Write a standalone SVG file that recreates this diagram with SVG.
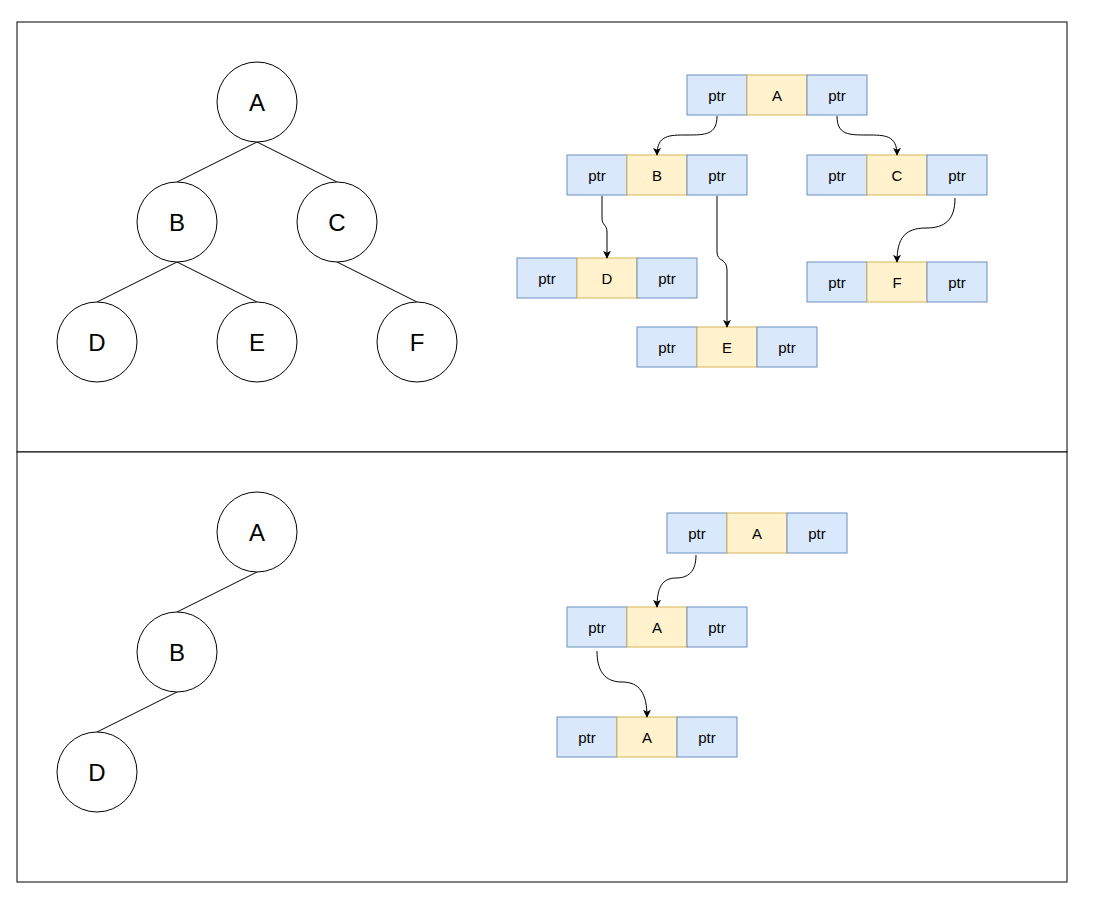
<svg xmlns="http://www.w3.org/2000/svg" width="1094" height="911" viewBox="0 0 1094 911">
<style>
.panel{fill:#fff;stroke:#000;stroke-width:1}
.circ{fill:#fff;stroke:#000;stroke-width:1}
.ct{font-family:"Liberation Sans",Arial,sans-serif;font-size:24px;text-anchor:middle;dominant-baseline:central;fill:#000}
.p{fill:#dae8fc;stroke:#6c8ebf;stroke-width:1}
.d{fill:#fff2cc;stroke:#d6b656;stroke-width:1}
.rt{font-family:"Liberation Sans",Arial,sans-serif;font-size:15px;text-anchor:middle;dominant-baseline:central;fill:#000}
.tl{stroke:#000;stroke-width:1;fill:none}
.ar{stroke:#000;stroke-width:1;fill:none;marker-end:url(#arr)}
</style>
<defs>
<marker id="arr" viewBox="0 0 10 10" refX="9" refY="5" markerWidth="8" markerHeight="8" markerUnits="userSpaceOnUse" orient="auto">
<path d="M0,0 L10,5 L0,10 L2.5,5 Z" fill="#000"/>
</marker>
<g id="rec">
<rect class="p" x="0" y="0" width="60" height="40"/>
<rect class="d" x="60" y="0" width="60" height="40"/>
<rect class="p" x="120" y="0" width="60" height="40"/>
<text class="rt" x="30" y="20">ptr</text>
<text class="rt" x="150" y="20">ptr</text>
</g>
</defs>
<rect width="1094" height="911" fill="#fff"/>
<rect class="panel" x="17" y="22" width="1050" height="430"/>
<rect class="panel" x="17" y="452" width="1050" height="430"/>

<g id="tree-edges">
<line class="tl" x1="257" y1="142" x2="177" y2="182"/>
<line class="tl" x1="257" y1="142" x2="337" y2="182"/>
<line class="tl" x1="177" y1="262" x2="97" y2="302"/>
<line class="tl" x1="177" y1="262" x2="257" y2="302"/>
<line class="tl" x1="337" y1="262" x2="417" y2="302"/>
<line class="tl" x1="257" y1="572" x2="177" y2="612"/>
<line class="tl" x1="177" y1="692" x2="97" y2="732"/>
</g>

<g id="tA"><circle class="circ" cx="257" cy="102" r="40"/><text class="ct" x="257" y="102">A</text></g>
<g id="tB"><circle class="circ" cx="177" cy="222" r="40"/><text class="ct" x="177" y="222">B</text></g>
<g id="tC"><circle class="circ" cx="337" cy="222" r="40"/><text class="ct" x="337" y="222">C</text></g>
<g id="tD"><circle class="circ" cx="97" cy="342" r="40"/><text class="ct" x="97" y="342">D</text></g>
<g id="tE"><circle class="circ" cx="257" cy="342" r="40"/><text class="ct" x="257" y="342">E</text></g>
<g id="tF"><circle class="circ" cx="417" cy="342" r="40"/><text class="ct" x="417" y="342">F</text></g>

<g id="bA"><circle class="circ" cx="257" cy="532" r="40"/><text class="ct" x="257" y="532">A</text></g>
<g id="bB"><circle class="circ" cx="177" cy="652" r="40"/><text class="ct" x="177" y="652">B</text></g>
<g id="bD"><circle class="circ" cx="97" cy="772" r="40"/><text class="ct" x="97" y="772">D</text></g>

<g id="rA"><use href="#rec" x="687" y="75"/><text class="rt" x="777" y="95">A</text></g>
<g id="rB"><use href="#rec" x="567" y="155"/><text class="rt" x="657" y="175">B</text></g>
<g id="rC"><use href="#rec" x="807" y="155"/><text class="rt" x="897" y="175">C</text></g>
<g id="rD"><use href="#rec" x="517" y="258"/><text class="rt" x="607" y="278">D</text></g>
<g id="rE"><use href="#rec" x="637" y="327"/><text class="rt" x="727" y="347">E</text></g>
<g id="rF"><use href="#rec" x="807" y="262"/><text class="rt" x="897" y="282">F</text></g>

<g id="r2A"><use href="#rec" x="667" y="513"/><text class="rt" x="757" y="533">A</text></g>
<g id="r2B"><use href="#rec" x="567" y="607"/><text class="rt" x="657" y="627">A</text></g>
<g id="r2C"><use href="#rec" x="557" y="717"/><text class="rt" x="647" y="737">A</text></g>

<g id="connectors">
<path class="ar" d="M717,116 C717,135 705,135 687,135 C669,135 657,135 657,155"/>
<path class="ar" d="M837,116 C837,135 849,135 867,135 C885,135 897,135 897,155"/>
<path class="ar" d="M602,196 L602,218 C602,226 607,224 607,232 L607,258"/>
<path class="ar" d="M717,196 L717,252 C717,262 727,258 727,270 L727,327"/>
<path class="ar" d="M955,198 C955,220 945,228 926,228 C905,228 897,238 897,262"/>
<path class="ar" d="M696,555 C696,572 688,578 676,578 C662,578 657,588 657,607"/>
<path class="ar" d="M597,651 C597,670 604,682 622,682 C640,682 647,694 647,717"/>
</g>
</svg>
